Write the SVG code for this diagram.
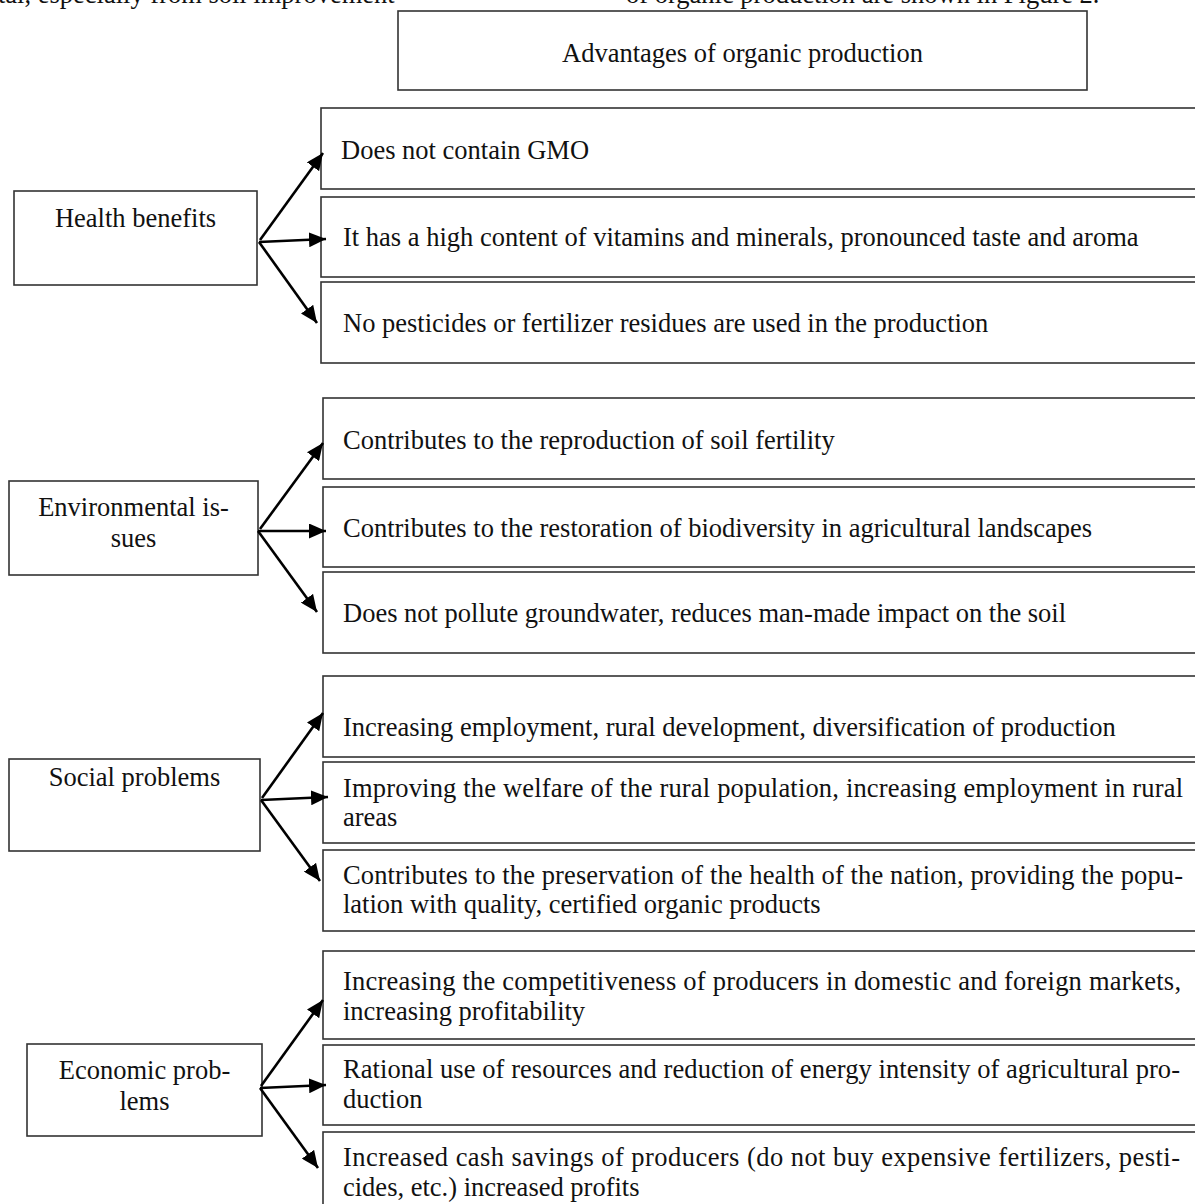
<svg xmlns="http://www.w3.org/2000/svg" width="1195" height="1204" viewBox="0 0 1195 1204">
<defs>
<marker id="ah" markerUnits="userSpaceOnUse" markerWidth="18" markerHeight="15" refX="17" refY="7.5" orient="auto">
<path d="M0,0 L17,7.5 L0,15 z" fill="#000"/>
</marker>
<style>
text{font-family:"Liberation Serif","Times New Roman",serif;font-size:26.5px;fill:#111}
.b{fill:#fff;stroke:#333;stroke-width:1.6}
.c{text-anchor:middle}
.a{stroke:#000;stroke-width:2.6;fill:none;marker-end:url(#ah)}
</style>
</defs>
<rect width="1195" height="1204" fill="#fff"/>
<g id="page-text">
<text x="-2" y="3">tal, especially from soil improvement</text>
<text x="626" y="3">of organic production are shown in Figure 2.</text>
</g>
<g id="root">
<rect class="b" x="398" y="11" width="689" height="79"/>
<text class="c" x="742.5" y="62">Advantages of organic production</text>
</g>
<g id="health">
<rect class="b" x="14" y="191" width="243" height="94"/>
<text class="c" x="135.5" y="227">Health benefits</text>
</g>
<g id="h1"><rect class="b" x="321" y="108" width="900" height="81"/><text x="341" y="159">Does not contain GMO</text></g>
<g id="h2"><rect class="b" x="321" y="197" width="900" height="80"/><text x="343" y="246">It has a high content of vitamins and minerals, pronounced taste and aroma</text></g>
<g id="h3"><rect class="b" x="321" y="282" width="900" height="81"/><text x="343" y="332">No pesticides or fertilizer residues are used in the production</text></g>
<g id="environment">
<rect class="b" x="9" y="481" width="249" height="94"/>
<text class="c" x="133.5" y="516">Environmental is-</text>
<text class="c" x="133.5" y="547">sues</text>
</g>
<g id="e1"><rect class="b" x="323" y="398" width="900" height="81"/><text x="343" y="449">Contributes to the reproduction of soil fertility</text></g>
<g id="e2"><rect class="b" x="323" y="487" width="900" height="80"/><text x="343" y="537">Contributes to the restoration of biodiversity in agricultural landscapes</text></g>
<g id="e3"><rect class="b" x="323" y="572" width="900" height="81"/><text x="343" y="622">Does not pollute groundwater, reduces man-made impact on the soil</text></g>
<g id="social">
<rect class="b" x="9" y="759" width="251" height="92"/>
<text class="c" x="134.5" y="786">Social problems</text>
</g>
<g id="s1"><rect class="b" x="323" y="676" width="900" height="81"/><text x="343" y="736">Increasing employment, rural development, diversification of production</text></g>
<g id="s2"><rect class="b" x="323" y="762" width="900" height="81"/><text x="343" y="797" textLength="840" lengthAdjust="spacing">Improving the welfare of the rural population, increasing employment in rural</text><text x="343" y="826">areas</text></g>
<g id="s3"><rect class="b" x="323" y="850" width="900" height="81"/><text x="343" y="884" textLength="840" lengthAdjust="spacing">Contributes to the preservation of the health of the nation, providing the popu-</text><text x="343" y="913">lation with quality, certified organic products</text></g>
<g id="economic">
<rect class="b" x="27" y="1044" width="235" height="92"/>
<text class="c" x="144.5" y="1079">Economic prob-</text>
<text class="c" x="144.5" y="1110">lems</text>
</g>
<g id="c1"><rect class="b" x="323" y="951" width="900" height="88"/><text x="343" y="990" textLength="838" lengthAdjust="spacing">Increasing the competitiveness of producers in domestic and foreign markets,</text><text x="343" y="1020">increasing profitability</text></g>
<g id="c2"><rect class="b" x="323" y="1045" width="900" height="80"/><text x="343" y="1078" textLength="837" lengthAdjust="spacing">Rational use of resources and reduction of energy intensity of agricultural pro-</text><text x="343" y="1108">duction</text></g>
<g id="c3"><rect class="b" x="323" y="1132" width="900" height="100"/><text x="343" y="1166" textLength="837" lengthAdjust="spacing">Increased cash savings of producers (do not buy expensive fertilizers, pesti-</text><text x="343" y="1196">cides, etc.) increased profits</text></g>
<g id="connectors">
<line class="a" x1="260" y1="240" x2="323" y2="153"/>
<line class="a" x1="259" y1="242" x2="326" y2="239"/>
<line class="a" x1="259" y1="242" x2="317" y2="323"/>
<line class="a" x1="260" y1="529" x2="323" y2="443"/>
<line class="a" x1="258" y1="531" x2="326" y2="531"/>
<line class="a" x1="258" y1="531" x2="317" y2="612"/>
<line class="a" x1="262" y1="798" x2="323" y2="713"/>
<line class="a" x1="261" y1="800" x2="328" y2="797"/>
<line class="a" x1="261" y1="800" x2="320" y2="881"/>
<line class="a" x1="261" y1="1086" x2="323" y2="1000"/>
<line class="a" x1="260" y1="1088" x2="326" y2="1085"/>
<line class="a" x1="260" y1="1088" x2="318" y2="1168"/>
</g>
</svg>
